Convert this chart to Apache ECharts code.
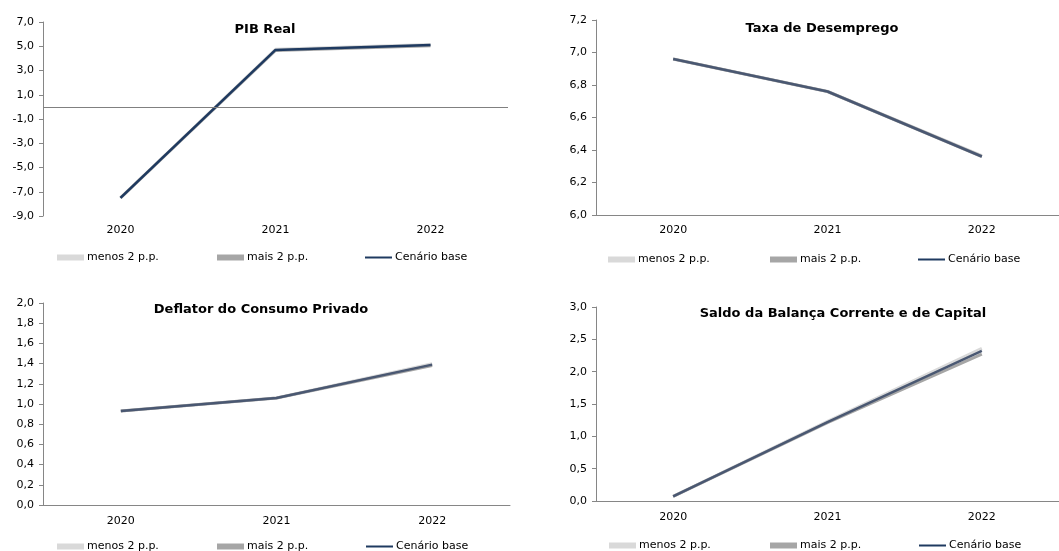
<!DOCTYPE html>
<html>
<head>
<meta charset="utf-8">
<script src="https://cdn.jsdelivr.net/npm/echarts@6/dist/echarts.min.js"></script>
<style>
  html, body { margin: 0; padding: 0; background: #fff; }
  #chart { width: 1059px; height: 551px; }
</style>
</head>
<body>
<div id="chart"></div>
<script>
var years = ['2020', '2021', '2022'];
var seriesNames = ['menos 2 p.p.', 'mais 2 p.p.', 'Cenário base'];

// PIB Real
var pibMenos = [-7.5, 4.75, 5.15];
var pibMais = [-7.5, 4.65, 5.05];
var pibBase = [-7.5, 4.7, 5.1];
var pibTicks = [-9, -7, -5, -3, -1, 1, 3, 5, 7];

// Taxa de Desemprego
var desMenos = [6.96, 6.76, 6.365];
var desMais = [6.96, 6.76, 6.36];
var desBase = [6.96, 6.76, 6.36];
var desTicks = [6.0, 6.2, 6.4, 6.6, 6.8, 7.0, 7.2];

// Deflator do Consumo Privado
var defMenos = [0.93, 1.06, 1.40];
var defMais = [0.93, 1.06, 1.38];
var defBase = [0.93, 1.06, 1.39];
var defTicks = [0.0, 0.2, 0.4, 0.6, 0.8, 1.0, 1.2, 1.4, 1.6, 1.8, 2.0];

// Saldo da Balança Corrente e de Capital
var salMenos = [0.07, 1.23, 2.36];
var salMais = [0.07, 1.21, 2.27];
var salBase = [0.07, 1.22, 2.32];
var salTicks = [0.0, 0.5, 1.0, 1.5, 2.0, 2.5, 3.0];

var FONT = 'DejaVu Sans';
var AXIS_GREY = '#868686';
var LIGHT = '#d9d9d9';
var MID = '#a6a6a6';

function fmt(v) {
    return v.toFixed(1).replace('.', ',');
}

var panels = [
    { title: 'PIB Real', grid: { left: 43, top: 22, width: 465, height: 194 }, titleX: 265, titleY: 23,
      ticks: pibTicks, data: [pibMenos, pibMais, pibBase], base: '#1f3a60', zeroLine: true,
      legendY: 252, legendX: [57, 217, 365], xMargin: 9 },
    { title: 'Taxa de Desemprego', grid: { left: 596, top: 20, width: 471, height: 195 }, titleX: 822, titleY: 22,
      ticks: desTicks, data: [desMenos, desMais, desBase], base: '#4a5872', zeroLine: false,
      legendY: 254, legendX: [608, 770, 918], xMargin: 10 },
    { title: 'Deflator do Consumo Privado', grid: { left: 43, top: 303, width: 467, height: 202 }, titleX: 261, titleY: 303,
      ticks: defTicks, data: [defMenos, defMais, defBase], base: '#4a5872', zeroLine: false,
      legendY: 541, legendX: [57, 217, 366], xMargin: 11 },
    { title: 'Saldo da Balança Corrente e de Capital', grid: { left: 596, top: 307, width: 471, height: 194 }, titleX: 843, titleY: 307,
      ticks: salTicks, data: [salMenos, salMais, salBase], base: '#4a5872', zeroLine: false,
      legendY: 540, legendX: [609, 770, 919], xMargin: 11 }
];

var option = {
    animation: false,
    backgroundColor: '#fff',
    title: [], grid: [], xAxis: [], yAxis: [], legend: [], series: []
};

panels.forEach(function (p, i) {
    option.title.push({
        text: p.title, left: p.titleX, top: p.titleY, textAlign: 'center', padding: 0,
        textStyle: { fontFamily: FONT, fontSize: 13, fontWeight: 'bold', color: '#000' }
    });
    option.grid.push(p.grid);
    option.xAxis.push({
        type: 'category', gridIndex: i, data: years, boundaryGap: true,
        axisLine: { show: !p.zeroLine, onZero: false, lineStyle: { color: AXIS_GREY } },
        axisTick: { show: false },
        axisLabel: { fontFamily: FONT, fontSize: 11, color: '#000', margin: p.xMargin }
    });
    var tmin = p.ticks[0], tmax = p.ticks[p.ticks.length - 1];
    option.yAxis.push({
        type: 'value', gridIndex: i, min: tmin, max: tmax,
        axisLine: { show: true, lineStyle: { color: AXIS_GREY } },
        axisTick: { show: true, length: 4, lineStyle: { color: AXIS_GREY }, customValues: p.ticks },
        splitLine: { show: false },
        axisLabel: { fontFamily: FONT, fontSize: 11, color: '#000', margin: 9,
                     customValues: p.ticks, formatter: fmt }
    });
    var colors = [LIGHT, MID, p.base];
    var widths = [3, 3, 2.5];
    seriesNames.forEach(function (name, k) {
        var s = {
            name: name, type: 'line', xAxisIndex: i, yAxisIndex: i,
            data: p.data[k], symbol: 'none', showSymbol: false,
            lineStyle: { color: colors[k], width: widths[k] },
            itemStyle: { color: colors[k] },
            z: 2 + k
        };
        if (k === 2 && p.zeroLine) {
            s.markLine = {
                silent: true, symbol: 'none', label: { show: false },
                lineStyle: { color: '#808080', width: 1, type: 'solid' },
                data: [{ yAxis: 0 }]
            };
        }
        option.series.push(s);
        option.legend.push({
            left: p.legendX[k], top: p.legendY, padding: 0,
            itemWidth: 27, itemHeight: k === 2 ? 2 : 6, itemGap: 0,
            icon: 'rect',
            data: [{ name: name }],
            textStyle: { fontFamily: FONT, fontSize: 11, color: '#000', padding: [0, 0, 0, -2] },
            selectedMode: false
        });
    });
});

var chart = echarts.init(document.getElementById('chart'));
chart.setOption(option);
</script>
</body>
</html>
